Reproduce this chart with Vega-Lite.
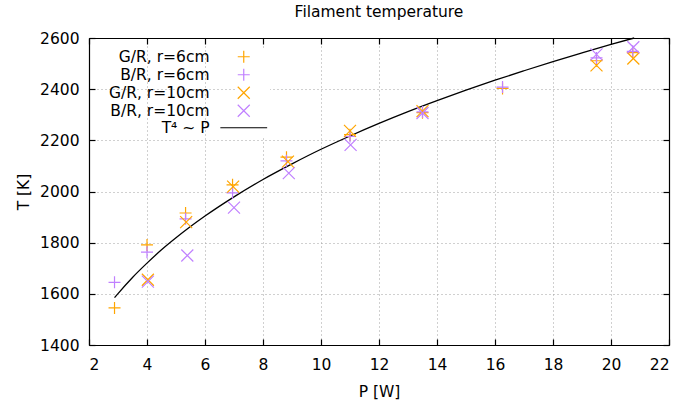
{
  "$schema": "https://vega.github.io/schema/vega-lite/v6.json",
  "width": 580,
  "height": 307,
  "autosize": {"type": "none"},
  "padding": {"left": 89, "top": 38, "right": 12, "bottom": 58},
  "background": "white",
  "title": {"text": "Filament temperature", "fontSize": 15.5, "fontWeight": "normal", "font": "DejaVu Sans", "color": "black", "offset": 11},
  "config": {
    "font": "DejaVu Sans",
    "view": {"stroke": null},
    "axis": {
      "labelFont": "DejaVu Sans", "labelFontSize": 15.5, "labelColor": "black",
      "titleFont": "DejaVu Sans", "titleFontSize": 15.5, "titleFontWeight": "normal", "titleColor": "black",
      "domainColor": "black", "domainWidth": 1.2, "tickColor": "black", "tickWidth": 1.2, "tickSize": -6,
      "gridColor": "#a0a0a0", "gridDash": [1, 3], "gridWidth": 1
    }
  },
  "datasets": {
    "pts": [
      {"P": 2.88, "T": 1545, "series": "G/R, r=6cm"},
      {"P": 4.0, "T": 1791, "series": "G/R, r=6cm"},
      {"P": 5.33, "T": 1916, "series": "G/R, r=6cm"},
      {"P": 6.95, "T": 2026, "series": "G/R, r=6cm"},
      {"P": 8.81, "T": 2134, "series": "G/R, r=6cm"},
      {"P": 11.0, "T": 2222, "series": "G/R, r=6cm"},
      {"P": 13.5, "T": 2308, "series": "G/R, r=6cm"},
      {"P": 16.26, "T": 2403, "series": "G/R, r=6cm"},
      {"P": 19.5, "T": 2511, "series": "G/R, r=6cm"},
      {"P": 20.75, "T": 2543, "series": "G/R, r=6cm"},
      {"P": 2.88, "T": 1645, "series": "B/R, r=6cm"},
      {"P": 4.0, "T": 1763, "series": "B/R, r=6cm"},
      {"P": 5.33, "T": 1893, "series": "B/R, r=6cm"},
      {"P": 6.95, "T": 1995, "series": "B/R, r=6cm"},
      {"P": 8.81, "T": 2120, "series": "B/R, r=6cm"},
      {"P": 11.0, "T": 2215, "series": "B/R, r=6cm"},
      {"P": 13.5, "T": 2311, "series": "B/R, r=6cm"},
      {"P": 16.26, "T": 2408, "series": "B/R, r=6cm"},
      {"P": 19.5, "T": 2522, "series": "B/R, r=6cm"},
      {"P": 20.75, "T": 2548, "series": "B/R, r=6cm"},
      {"P": 4.03, "T": 1655, "series": "G/R, r=10cm"},
      {"P": 5.35, "T": 1880, "series": "G/R, r=10cm"},
      {"P": 6.97, "T": 2019, "series": "G/R, r=10cm"},
      {"P": 8.86, "T": 2117, "series": "G/R, r=10cm"},
      {"P": 11.0, "T": 2237, "series": "G/R, r=10cm"},
      {"P": 13.5, "T": 2314, "series": "G/R, r=10cm"},
      {"P": 19.5, "T": 2493, "series": "G/R, r=10cm"},
      {"P": 20.77, "T": 2520, "series": "G/R, r=10cm"},
      {"P": 4.03, "T": 1648, "series": "B/R, r=10cm"},
      {"P": 5.39, "T": 1750, "series": "B/R, r=10cm"},
      {"P": 7.0, "T": 1937, "series": "B/R, r=10cm"},
      {"P": 8.89, "T": 2072, "series": "B/R, r=10cm"},
      {"P": 11.02, "T": 2182, "series": "B/R, r=10cm"},
      {"P": 13.5, "T": 2307, "series": "B/R, r=10cm"},
      {"P": 19.5, "T": 2536, "series": "B/R, r=10cm"},
      {"P": 20.77, "T": 2564, "series": "B/R, r=10cm"}
    ],
    "fit": [
      {"P": 2.88, "T": 1585, "series": "T⁴ ~ P"},
      {"P": 3.0, "T": 1601, "series": "T⁴ ~ P"},
      {"P": 3.5, "T": 1664, "series": "T⁴ ~ P"},
      {"P": 4.0, "T": 1720, "series": "T⁴ ~ P"},
      {"P": 4.5, "T": 1772, "series": "T⁴ ~ P"},
      {"P": 5.0, "T": 1819, "series": "T⁴ ~ P"},
      {"P": 5.5, "T": 1863, "series": "T⁴ ~ P"},
      {"P": 6.0, "T": 1904, "series": "T⁴ ~ P"},
      {"P": 7.0, "T": 1979, "series": "T⁴ ~ P"},
      {"P": 8.0, "T": 2047, "series": "T⁴ ~ P"},
      {"P": 9.0, "T": 2108, "series": "T⁴ ~ P"},
      {"P": 10.0, "T": 2165, "series": "T⁴ ~ P"},
      {"P": 11.0, "T": 2217, "series": "T⁴ ~ P"},
      {"P": 12.0, "T": 2266, "series": "T⁴ ~ P"},
      {"P": 13.0, "T": 2312, "series": "T⁴ ~ P"},
      {"P": 14.0, "T": 2355, "series": "T⁴ ~ P"},
      {"P": 15.0, "T": 2396, "series": "T⁴ ~ P"},
      {"P": 16.0, "T": 2435, "series": "T⁴ ~ P"},
      {"P": 17.0, "T": 2472, "series": "T⁴ ~ P"},
      {"P": 18.0, "T": 2508, "series": "T⁴ ~ P"},
      {"P": 19.0, "T": 2542, "series": "T⁴ ~ P"},
      {"P": 20.0, "T": 2575, "series": "T⁴ ~ P"},
      {"P": 20.8, "T": 2600, "series": "T⁴ ~ P"}
    ]
  },
  "layer": [
    {
      "data": {"name": "fit"},
      "mark": {"type": "line", "strokeWidth": 1.3, "interpolate": "monotone"},
      "encoding": {
        "x": {"field": "P", "type": "quantitative",
          "scale": {"domain": [2, 22], "nice": false, "zero": false},
          "axis": {"orient": "top", "labels": false, "grid": false, "title": null, "values": [2,4,6,8,10,12,14,16,18,20,22]}},
        "y": {"field": "T", "type": "quantitative",
          "scale": {"domain": [1400, 2600], "nice": false, "zero": false},
          "axis": {"orient": "right", "labels": false, "grid": false, "title": null, "values": [1400,1600,1800,2000,2200,2400,2600]}},
        "color": {"field": "series", "type": "nominal"}
      }
    },
    {
      "data": {"name": "pts"},
      "mark": {"type": "point", "filled": false, "size": 144, "strokeWidth": 1.2, "opacity": 1},
      "encoding": {
        "x": {"field": "P", "type": "quantitative",
          "axis": {"orient": "bottom", "title": "P [W]", "grid": true, "format": "d", "values": [2,4,6,8,10,12,14,16,18,20,22], "labelPadding": 18, "titlePadding": 12}},
        "y": {"field": "T", "type": "quantitative",
          "axis": {"orient": "left", "title": "T [K]", "grid": true, "format": "d", "values": [1400,1600,1800,2000,2200,2400,2600], "labelPadding": 16, "titlePadding": 8}},
        "color": {"field": "series", "type": "nominal",
          "scale": {"domain": ["G/R, r=6cm", "B/R, r=6cm", "G/R, r=10cm", "B/R, r=10cm", "T⁴ ~ P"],
                    "range": ["#ffa500", "#c080ff", "#ffa500", "#c080ff", "black"]},
          "legend": {"title": null, "orient": "none", "legendX": 147, "legendY": 11, "labelOffset": -42, "labelAlign": "right",
                     "labelFontSize": 15.5, "labelFont": "DejaVu Sans", "labelColor": "black", "symbolSize": 144, "symbolStrokeWidth": 1.2,
                     "rowPadding": 0, "fillColor": "white", "padding": 0}},
        "shape": {"field": "series", "type": "nominal",
          "scale": {"domain": ["G/R, r=6cm", "B/R, r=6cm", "G/R, r=10cm", "B/R, r=10cm", "T⁴ ~ P"],
                    "range": ["M-1,0H1M0,-1V1", "M-1,0H1M0,-1V1", "M-1,-1L1,1M1,-1L-1,1", "M-1,-1L1,1M1,-1L-1,1", "M-3.9,0H3.9"]}}
      }
    }
  ],
  "resolve": {"axis": {"x": "independent", "y": "independent"}}
}
